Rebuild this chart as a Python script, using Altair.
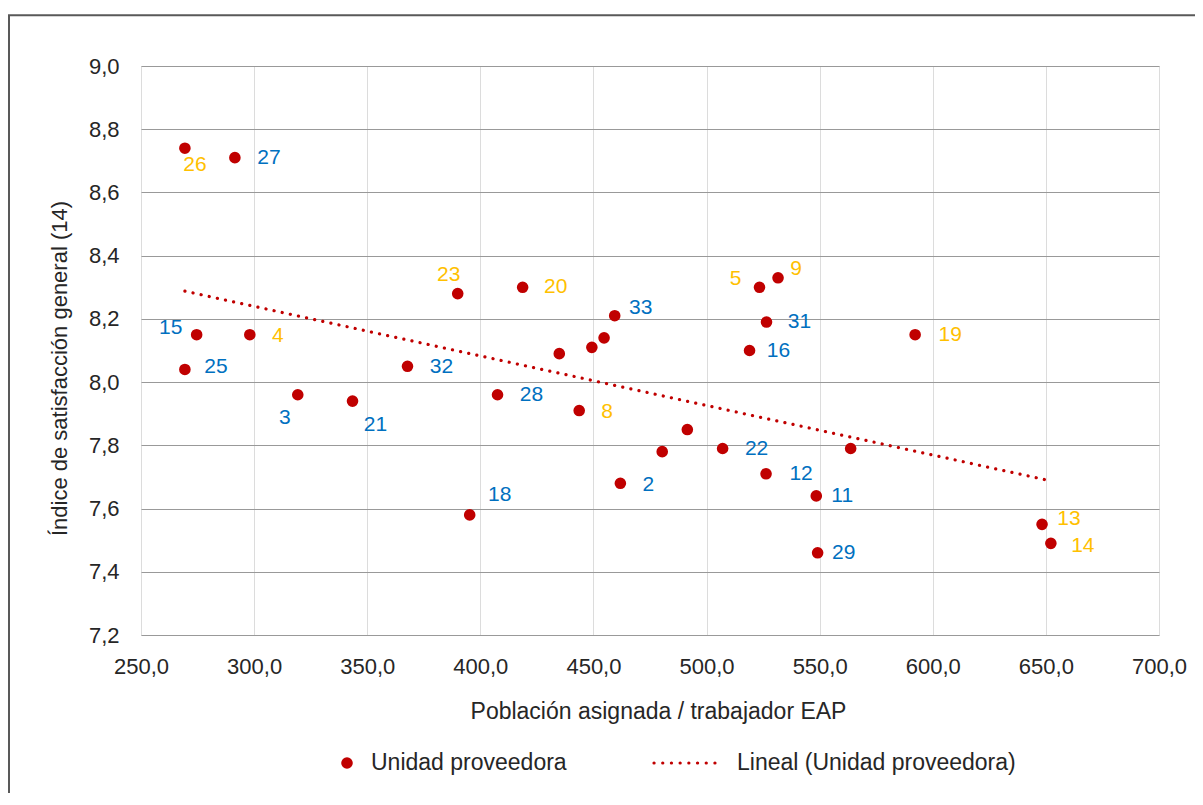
import altair as alt
import pandas as pd

# ---- data ----
etiquetas = ["26", "27", "15", "4", "25", "3", "21", "32", "23", "20", "33", "", "", "",
             "28", "8", "2", "18", "", "", "22", "5", "9", "31", "16", "19", "", "12",
             "11", "29", "13", "14"]
poblacion = [269.4, 291.5, 274.6, 298.1, 269.4, 319.3, 343.5, 367.8, 390.0, 418.7, 459.4,
             454.7, 449.3, 434.9, 407.6, 443.7, 461.9, 395.3, 480.4, 491.5, 507.1, 523.4,
             531.6, 526.5, 519.0, 592.2, 563.7, 526.3, 548.5, 549.1, 648.3, 652.2]
satisfaccion = [8.74, 8.71, 8.15, 8.15, 8.04, 7.96, 7.94, 8.05, 8.28, 8.30, 8.21, 8.14,
                8.11, 8.09, 7.96, 7.91, 7.68, 7.58, 7.78, 7.85, 7.79, 8.30, 8.33, 8.19,
                8.10, 8.15, 7.79, 7.71, 7.64, 7.46, 7.55, 7.49]
grupo_amarillo = ["26", "4", "23", "20", "8", "5", "9", "19", "13", "14"]
x_ticks = [250, 300, 350, 400, 450, 500, 550, 600, 650, 700]
y_ticks = [7.2, 7.4, 7.6, 7.8, 8.0, 8.2, 8.4, 8.6, 8.8, 9.0]

# label placement (pixel offsets from the point, style only)
offsets = {
    "26": (10, 17), "27": (34, 0), "15": (-26, -7), "4": (28, 1), "25": (31, -2),
    "3": (-13, 23), "21": (23, 24), "32": (34, 1), "23": (-9, -19), "20": (33, 0),
    "33": (26, -8), "28": (34, 0), "8": (28, 1), "2": (28, 2), "18": (30, -20),
    "5": (-24, -8), "9": (18, -9), "31": (33, 0), "16": (29, 0), "19": (35, 0),
    "22": (34, 1), "12": (35, 0), "11": (26, 0), "29": (26, 0), "13": (27, -5),
    "14": (32, 3),
}

df = pd.DataFrame({"etiqueta": etiquetas, "poblacion": poblacion, "satisfaccion": satisfaccion})
df["grupo"] = ["A" if e in grupo_amarillo else "B" for e in etiquetas]
df["dx"] = [offsets.get(e, (0, 0))[0] for e in etiquetas]
df["dy"] = [offsets.get(e, (0, 0))[1] for e in etiquetas]

FONT = "Liberation Sans"
TXT = "#262626"
RED = "#C00000"
W, H = 1018, 569
X_DOM = [250, 700]
Y_DOM = [7.2, 9.0]

x_enc = alt.X(
    "poblacion:Q",
    scale=alt.Scale(domain=X_DOM, nice=False, zero=False),
    axis=alt.Axis(
        values=x_ticks,
        labelExpr="replace(format(datum.value, '.1f'), '.', ',')",
        title="Población asignada / trabajador EAP",
        grid=True, gridColor="#dcdcdc", gridWidth=1,
        domain=False, ticks=False, tickSize=0,
        labelFlush=False, labelOverlap=False, labelBound=False,
        labelPadding=21, labelFont=FONT, labelFontSize=22, labelColor=TXT,
        titleFont=FONT, titleFontSize=23, titleFontWeight="normal", titleColor=TXT,
        titleX=517, titleY=83, titleBaseline="alphabetic", titleAlign="center",
    ),
)
y_enc = alt.Y(
    "satisfaccion:Q",
    scale=alt.Scale(domain=Y_DOM, nice=False, zero=False),
    axis=alt.Axis(
        values=y_ticks,
        labelExpr="replace(format(datum.value, '.1f'), '.', ',')",
        title="Índice de satisfacción general (14)",
        grid=True, gridColor="#999999", gridWidth=1,
        domain=False, ticks=False, tickSize=0,
        labelFlush=False, labelOverlap=False, labelBound=False,
        labelPadding=22, labelFont=FONT, labelFontSize=22, labelColor=TXT,
        titleFont=FONT, titleFontSize=22, titleFontWeight="normal", titleColor=TXT,
        titleX=-75, titleY=302, titleBaseline="alphabetic", titleAlign="center", titleAngle=270,
    ),
)

base = alt.Chart(df)

points = base.mark_circle(size=135, color=RED, opacity=1).encode(x=x_enc, y=y_enc)

trend = base.transform_regression("poblacion", "satisfaccion").mark_line(
    color=RED, strokeWidth=3.2, strokeDash=[0.1, 8.2], strokeCap="round"
).encode(x="poblacion:Q", y="satisfaccion:Q")

labels = base.transform_filter("datum.etiqueta != ''").transform_calculate(
    lx=f"datum.poblacion + datum.dx * {(X_DOM[1] - X_DOM[0]) / W}",
    ly=f"datum.satisfaccion - datum.dy * {(Y_DOM[1] - Y_DOM[0]) / H}",
).mark_text(
    font=FONT, fontSize=21, align="center", baseline="middle"
).encode(
    x="lx:Q",
    y="ly:Q",
    text="etiqueta:N",
    color=alt.Color("grupo:N", scale=alt.Scale(domain=["A", "B"], range=["#FFC000", "#0070C0"]), legend=None),
)

one = alt.Chart(pd.DataFrame({"k": [0]}))
leg_y = 697
leg_pt = one.mark_circle(size=135, color=RED, opacity=1).encode(x=alt.value(206), y=alt.value(leg_y))
leg_t1 = one.mark_text(font=FONT, fontSize=23, align="left", baseline="middle", color=TXT).encode(
    x=alt.value(230), y=alt.value(leg_y), text=alt.value("Unidad proveedora"))
leg_ln = one.mark_rule(color=RED, strokeWidth=3.2, strokeDash=[0.1, 8.6], strokeCap="round").encode(
    x=alt.value(513), x2=alt.value(582), y=alt.value(leg_y))
leg_t2 = one.mark_text(font=FONT, fontSize=23, align="left", baseline="middle", color=TXT).encode(
    x=alt.value(596), y=alt.value(leg_y), text=alt.value("Lineal (Unidad proveedora)"))

frame_top = one.mark_rule(color="#595959", strokeWidth=2).encode(
    x=alt.value(-133), x2=alt.value(1060), y=alt.value(-50.7))
frame_left = one.mark_rule(color="#595959", strokeWidth=2).encode(
    x=alt.value(-132), y=alt.value(-50.7), y2=alt.value(740))

chart = alt.layer(
    points, trend, labels, leg_pt, leg_t1, leg_ln, leg_t2, frame_top, frame_left
).properties(
    width=W, height=H,
    autosize=alt.AutoSizeParams(type="none"),
    padding={"left": 133, "top": 58, "right": 36, "bottom": 158},
).configure_view(
    stroke="#8c8c8c", strokeWidth=1
).configure(background="white")

chart.save("out.html", embed_options={"renderer": "svg", "actions": False})
